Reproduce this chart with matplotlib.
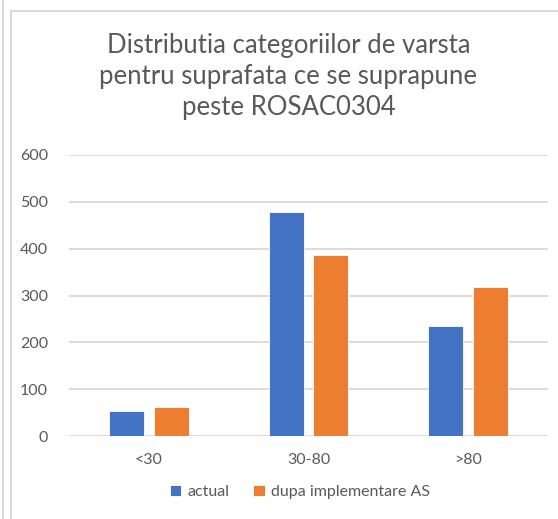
import numpy as np
import matplotlib
matplotlib.use("Agg")
from matplotlib import pyplot as plt
from matplotlib.lines import Line2D

# data
categories = ["<30", "30-80", ">80"]
actual = [53, 479, 235]
dupa = [62, 386, 318]
series_names = ["actual", "dupa implementare AS"]

plt.rcParams['font.family'] = ['Lato', 'DejaVu Sans']
gray = "#595959"

fig = plt.figure(figsize=(5.58, 5.19), dpi=100)
ax = fig.add_axes([69/558, 83/519, 479/558, 281/519])

x = np.arange(len(categories))
w = 0.22
ax.bar(x - 0.14, actual, w, color="#4472C4", edgecolor="white", linewidth=0.6, label=series_names[0], zorder=3)
ax.bar(x + 0.14, dupa, w, color="#ED7D31", edgecolor="white", linewidth=0.6, label=series_names[1], zorder=3)

ax.set_xlim(-0.5, 2.5)
ax.set_ylim(0, 600)
ax.set_yticks(range(0, 601, 100))
ax.set_xticks(x)
ax.set_xticklabels(categories)
ax.grid(axis="y", color="#D9D9D9", linewidth=1.3, zorder=0)
for s in ax.spines.values():
    s.set_visible(False)
ax.tick_params(length=0, colors=gray, labelsize=11.5)
ax.tick_params(axis="x", pad=12)
ax.tick_params(axis="y", pad=15)

fig.text(0.517, 1 - 33/519, "Distributia categoriilor de varsta\npentru suprafata ce se suprapune\npeste ROSAC0304",
         ha="center", va="top", fontsize=18.5, color=gray, linespacing=1.3)

ax.legend(loc="center", bbox_to_anchor=(300/558, 1 - 492/519), bbox_transform=fig.transFigure,
          ncol=2, frameon=False, fontsize=11.5, labelcolor=gray, handlelength=0.7, handleheight=0.7,
          handletextpad=0.4, columnspacing=1.5)

# frame lines like the screenshot
bc = "#D9D9D9"
fig.add_artist(Line2D([3/558, 3/558], [0, 1], color=bc, lw=1.5, transform=fig.transFigure))
fig.add_artist(Line2D([11/558, 11/558], [0, 1 - 11/519], color=bc, lw=1.5, transform=fig.transFigure))
fig.add_artist(Line2D([11/558, 1], [1 - 11/519, 1 - 11/519], color=bc, lw=1.5, transform=fig.transFigure))

fig.savefig("out.png", dpi=100)
